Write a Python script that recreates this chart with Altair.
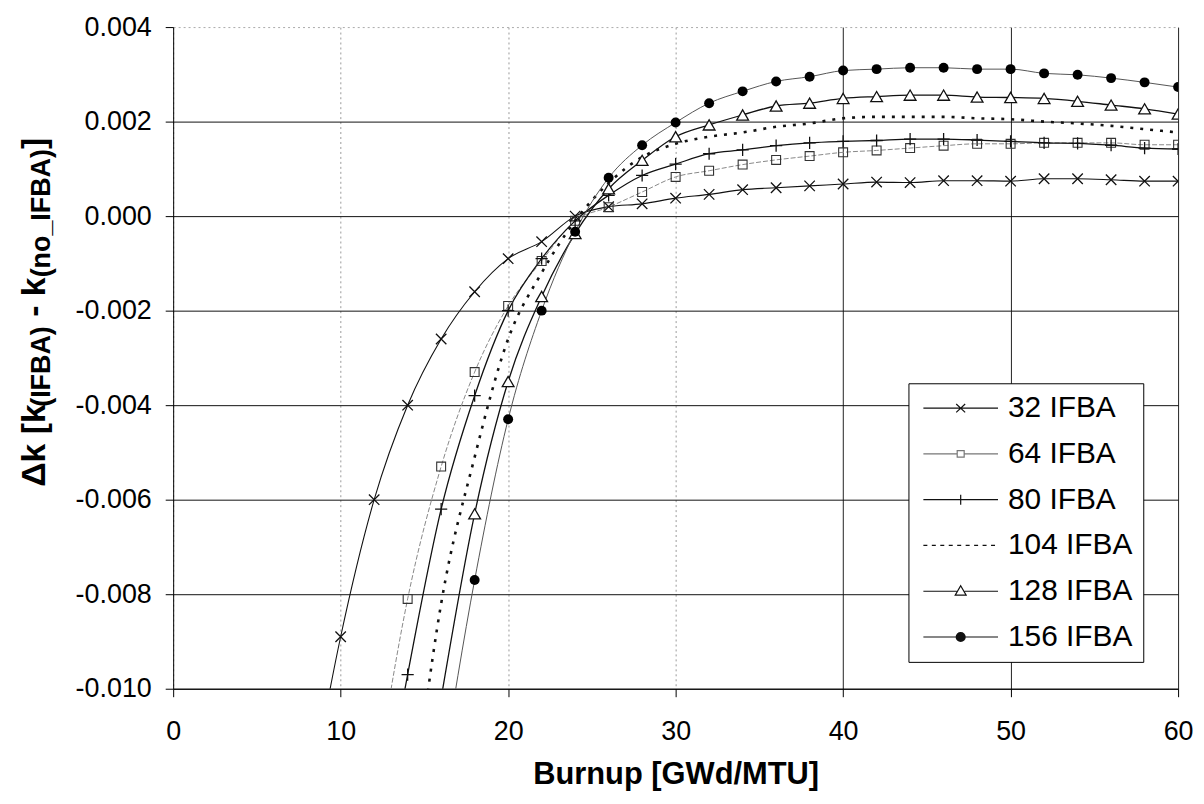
import altair as alt
import pandas as pd

# ---- data (Burnup in GWd/MTU, delta-k) ----
series_names = ["32 IFBA", "64 IFBA", "80 IFBA", "104 IFBA", "128 IFBA", "156 IFBA"]

burnup_32 = [8, 10, 12, 14, 16, 18, 20, 22, 24, 26, 28, 30, 32, 34, 36, 38, 40, 42, 44, 46, 48, 50, 52, 54, 56, 58, 60]
dk_32 = [-0.0126, -0.0089, -0.0060, -0.0040, -0.0026, -0.0016, -0.0009, -0.00054, 0.0, 0.0002, 0.00026, 0.00038,
         0.00046, 0.00056, 0.0006, 0.00064, 0.00068, 0.00072, 0.00071, 0.00075, 0.00075, 0.00074, 0.00079, 0.00079,
         0.00077, 0.00074, 0.00074]

burnup_64 = [12, 14, 16, 18, 20, 22, 24, 26, 28, 30, 32, 34, 36, 38, 40, 42, 44, 46, 48, 50, 52, 54, 56, 58, 60]
dk_64 = [-0.0122, -0.0081, -0.0053, -0.0033, -0.0019, -0.00095, -0.0001, 0.00019, 0.00051, 0.00083, 0.00096,
         0.00109, 0.00119, 0.00127, 0.00135, 0.00139, 0.00144, 0.00149, 0.00153, 0.00153, 0.00155, 0.00155, 0.00155,
         0.00151, 0.00151]

burnup_80 = [12, 14, 16, 18, 20, 22, 24, 26, 28, 30, 32, 34, 36, 38, 40, 42, 44, 46, 48, 50, 52, 54, 56, 58, 60]
dk_80 = [-0.0137, -0.0097, -0.0062, -0.0038, -0.0020, -0.0009, -0.0001, 0.00044, 0.00086, 0.0011, 0.00132, 0.0014,
         0.00149, 0.00155, 0.00158, 0.0016, 0.00163, 0.00163, 0.00161, 0.00158, 0.00155, 0.00154, 0.0015, 0.00144,
         0.00142]

burnup_104 = [14, 16, 18, 20, 22, 24, 26, 28, 30, 32, 34, 36, 38, 40, 42, 44, 46, 48, 50, 52, 54, 56, 58, 60]
dk_104 = [-0.0134, -0.0082, -0.0051, -0.0026, -0.0012, -0.0001, 0.0007, 0.00125, 0.00153, 0.00168, 0.00177,
          0.00189, 0.00196, 0.00207, 0.0021, 0.0021, 0.0021, 0.00207, 0.00205, 0.002, 0.00196, 0.00191, 0.00184,
          0.00177]

burnup_128 = [16, 18, 20, 22, 24, 26, 28, 30, 32, 34, 36, 38, 40, 42, 44, 46, 48, 50, 52, 54, 56, 58, 60]
dk_128 = [-0.0102, -0.0063, -0.0035, -0.0017, -0.00037, 0.00058, 0.00118, 0.00168, 0.00193, 0.00214, 0.00233,
          0.00239, 0.00249, 0.00253, 0.00256, 0.00256, 0.00252, 0.00251, 0.00249, 0.00243, 0.00235, 0.00227, 0.00216]

burnup_156 = [16, 18, 20, 22, 24, 26, 28, 30, 32, 34, 36, 38, 40, 42, 44, 46, 48, 50, 52, 54, 56, 58, 60]
dk_156 = [-0.0119, -0.0077, -0.0043, -0.0020, -0.00033, 0.00081, 0.0015, 0.00198, 0.00239, 0.00264, 0.00285,
          0.00295, 0.00308, 0.00311, 0.00314, 0.00314, 0.00311, 0.00311, 0.00302, 0.00299, 0.00292, 0.00283, 0.00273]

x_ticks = [0, 10, 20, 30, 40, 50, 60]
y_ticks = [-0.010, -0.008, -0.006, -0.004, -0.002, 0.000, 0.002, 0.004]

x_title = "Burnup [GWd/MTU]"
# y title pieces: (text, is_subscript)
y_title_pieces = [("\u0394k [k", False), ("(IFBA)", True), ("- k", False), ("(no_IFBA)", True), ("]", False)]

all_x = [burnup_32, burnup_64, burnup_80, burnup_104, burnup_128, burnup_156]
all_y = [dk_32, dk_64, dk_80, dk_104, dk_128, dk_156]

rows = []
for name, xs, ys in zip(series_names, all_x, all_y):
    for xv, yv in zip(xs, ys):
        rows.append({"series": name, "burnup": xv, "dk": yv})
df = pd.DataFrame(rows)

FONT = "Liberation Sans"
TICK_FS = 27
XTITLE_FS = 31
TITLE_FS = 34
SUB_FS = 27

x_enc = alt.X("burnup:Q", scale=alt.Scale(domain=[0, 60], nice=False),
              axis=alt.Axis(values=x_ticks, title=x_title, format="d", labelFlush=False,
                            grid=True,
                            gridColor={"condition": {"test": "datum.value >= 40", "value": "#222222"}, "value": "#999999"},
                            gridDash={"condition": {"test": "datum.value >= 40", "value": []}, "value": [2, 3]},
                            gridWidth=1,
                            labelFontSize=TICK_FS, labelFont=FONT, labelColor="black", labelPadding=22,
                            tickSize=8, tickColor="black", domainColor="black",
                            titleFontSize=XTITLE_FS, titleFont=FONT, titleFontWeight="bold", titleColor="black",
                            titlePadding=15))
y_enc = alt.Y("dk:Q", scale=alt.Scale(domain=[-0.010, 0.004], nice=False),
              axis=alt.Axis(values=y_ticks, title=None,
                            labelExpr="replace(format(datum.value, '.3f'), '\u2212', '-')",
                            grid=True,
                            gridColor={"condition": {"test": "datum.value > 0.0035", "value": "#aaaaaa"}, "value": "#111111"},
                            gridDash={"condition": {"test": "datum.value > 0.0035", "value": [2, 3]}, "value": []},
                            gridWidth=1,
                            labelFontSize=TICK_FS, labelFont=FONT, labelColor="black", labelPadding=14,
                            tickSize=8, tickColor="black", domainColor="black"))

base = alt.Chart(df)

line_styles = {
    "32 IFBA": dict(color="#111111", strokeWidth=1.1),
    "64 IFBA": dict(color="#888888", strokeWidth=1.0, strokeDash=[5, 2]),
    "80 IFBA": dict(color="#111111", strokeWidth=1.3),
    "104 IFBA": dict(color="#111111", strokeWidth=2.6, strokeDash=[3, 7]),
    "128 IFBA": dict(color="#111111", strokeWidth=1.3),
    "156 IFBA": dict(color="#555555", strokeWidth=1.0),
}

P_X = "M-1,-1L1,1M-1,1L1,-1"
P_PLUS = "M-1,0L1,0M0,-1L0,1"
point_styles = {
    "32 IFBA": dict(shape=P_X, size=110, filled=False, color="#111111", strokeWidth=1.3),
    "64 IFBA": dict(shape="square", size=80, filled=False, color="#333333", strokeWidth=1.1),
    "80 IFBA": dict(shape=P_PLUS, size=150, filled=False, color="#111111", strokeWidth=1.3),
    "128 IFBA": dict(shape="triangle-up", size=140, filled=True, fill="white", stroke="#111111", strokeWidth=1.3),
    "156 IFBA": dict(shape="circle", size=100, filled=True, color="#000000"),
}

layers = []
for name in series_names:
    layers.append(base.transform_filter(alt.datum.series == name)
                  .mark_line(clip=True, interpolate="monotone", **line_styles[name])
                  .encode(x=x_enc, y=y_enc))
for name in series_names:
    if name in point_styles:
        layers.append(base.transform_filter(alt.datum.series == name)
                      .mark_point(clip=True, opacity=1, **point_styles[name])
                      .encode(x=x_enc, y=y_enc))

# legend symbols: line + marker drawn as custom paths (unit = 10 px)
dots = "".join("M%.2f,0L%.2f,0" % (-1 + i * 0.85, -1 + i * 0.85 + 0.4) for i in range(9))
circ = "".join("M%.2f,0A%.2f,%.2f 0 1,1 %.2f,0A%.2f,%.2f 0 1,1 %.2f,0" % (2.75 + r, r, r, 2.75 - r, r, r, 2.75 + r)
               for r in [0.45, 0.36, 0.27, 0.18, 0.09])
legend_paths = [
    "M-1,0L6.5,0M2.3,-0.42L3.2,0.42M2.3,0.42L3.2,-0.42",
    "M-1,0L2.4,0M3.1,0L6.5,0M2.4,-0.33L3.1,-0.33L3.1,0.33L2.4,0.33Z",
    "M-1,0L6.5,0M2.75,-0.5L2.75,0.5",
    dots,
    "M-1,0L2.35,0M3.15,0L6.5,0M2.75,-0.55L3.3,0.4L2.2,0.4Z",
    "M-1,0L6.5,0" + circ,
]
legend_colors = ["#111111", "#777777", "#111111", "#111111", "#111111", "#111111"]

leg = alt.Legend(title=None, orient="none", legendX=739, legendY=358,
                 symbolSize=400, symbolStrokeWidth=1.2, symbolOpacity=1,
                 labelFontSize=30, labelFont=FONT, labelColor="black", labelOffset=60,
                 rowPadding=16, padding=10, strokeColor="black", fillColor="white")

legend_layer = base.mark_point(opacity=0, filled=False).encode(
    x=x_enc, y=y_enc,
    color=alt.Color("series:N", scale=alt.Scale(domain=series_names, range=legend_colors), legend=leg),
    shape=alt.Shape("series:N", scale=alt.Scale(domain=series_names, range=legend_paths), legend=leg),
)
layers.append(legend_layer)

# ---- rotated y-axis title with subscripts, built from text pieces ----
W = {"\u0394": 0.64, "k": 0.556, " ": 0.278, "[": 0.333, "]": 0.333, "(": 0.333, ")": 0.333, "I": 0.278,
     "F": 0.611, "B": 0.722, "A": 0.722, "-": 0.333, "n": 0.611, "o": 0.611, "_": 0.556}


def text_width(s, fs):
    return sum(W.get(c, 0.6) for c in s) * fs


title_x = -129       # baseline, plot-relative px
sub_shift = 5        # subscripts sit lower (to the right when rotated)
pos = 462            # start (bottom of the rotated text), plot-relative px
for i, (txt, is_sub) in enumerate(y_title_pieces):
    fs = SUB_FS if is_sub else TITLE_FS
    if i > 0 and txt.startswith("-"):
        pos -= W[" "] * TITLE_FS
    layers.append(
        alt.Chart(pd.DataFrame({"t": [txt]})).mark_text(
            angle=270, align="left", baseline="alphabetic", font=FONT, fontSize=fs, fontWeight="bold",
            color="black"
        ).encode(text="t:N", x=alt.value(title_x + (sub_shift if is_sub else 0)), y=alt.value(pos))
    )
    pos -= text_width(txt, fs)

chart = alt.layer(*layers).properties(
    width=1010, height=665,
    padding={"left": 9, "top": 3, "right": 0, "bottom": 0},
    background="white",
).configure_view(strokeWidth=0)

chart.save("out.html", embed_options={"renderer": "svg", "actions": False})
